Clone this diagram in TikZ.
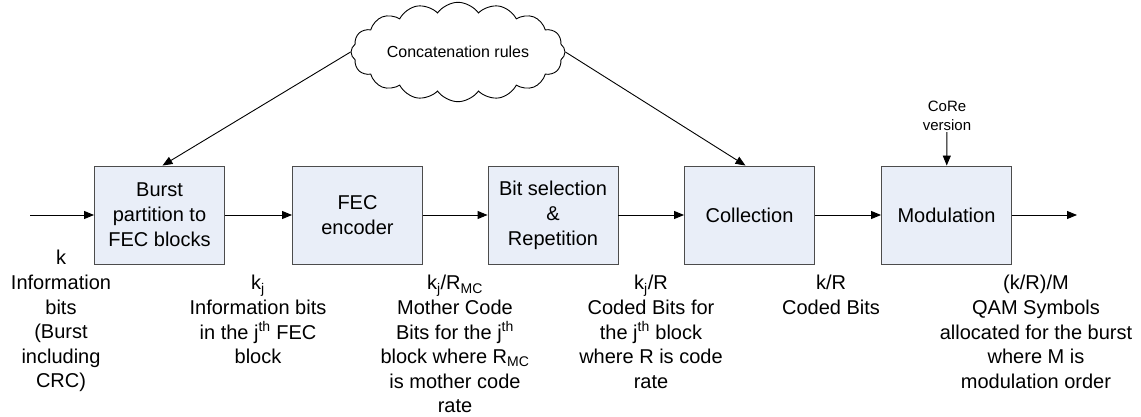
\documentclass[tikz,border=0pt]{standalone}
\usepackage{fontspec}
\setmainfont{Liberation Sans}
\usetikzlibrary{calc}
\usetikzlibrary{arrows.meta}
\usetikzlibrary{shapes.symbols}
\definecolor{boxfill}{RGB}{233,238,248}

\begin{document}
\begin{tikzpicture}[x=1pt,y=-1pt,line width=0.9pt,
  block/.style={draw=black!70,fill=boxfill,minimum width=130pt,minimum height=98pt,align=center,font=\fontsize{20}{25}\selectfont},
  lbl/.style={anchor=north,align=center,inner sep=0pt,font=\fontsize{20}{24.6}\selectfont},
  arr/.style={-{Triangle[length=10pt,width=8pt]},black}]

\useasboundingbox (0,0) rectangle (1141,417);

\node[block] (B1) at (159.5,215) {Burst\\partition to\\FEC blocks};
\node[block] (B2) at (357.5,215) {FEC\\encoder};
\node[block] (B3) at (553,215) {Bit selection\\\&\\Repetition};
\node[block] (B4) at (749.5,215) {Collection};
\node[block] (B5) at (946.5,215) {Modulation};

\coordinate (in) at (30,215);
\coordinate (out) at (1077,215);

\draw[arr] (in) -- (B1);
\draw[arr] (B1) -- (B2);
\draw[arr] (B2) -- (B3);
\draw[arr] (B3) -- (B4);
\draw[arr] (B4) -- (B5);
\draw[arr] (B5) -- (out);

\node[cloud,draw,cloud puffs=16,cloud puff arc=110,aspect=2.5,minimum width=214pt,minimum height=86pt,inner sep=0pt,font=\fontsize{16}{19}\selectfont] (rules) at (458,52) {Concatenation rules};
\draw[arr] (rules.west) -- ([xshift=3pt]B1.north);
\draw[arr] (rules.east) -- ([xshift=-4pt]B4.north);

\node[align=center,inner sep=1pt,font=\fontsize{15}{18.5}\selectfont] (core) at (947,116) {CoRe\\version};
\draw[arr] (core) -- (B5);

\node[lbl] (l1) at (61,250) {k\\Information\\bits\\(Burst\\including\\CRC)};
\node[lbl] (l2) at (258,275) {k\textsubscript{j}\\Information bits\\in the j\textsuperscript{th} FEC\\block};
\node[lbl] (l3) at (455,275) {k\textsubscript{j}/R\textsubscript{MC}\\Mother Code\\Bits for the j\textsuperscript{th}\\block where R\textsubscript{MC}\\is mother code\\rate};
\node[lbl] (l4) at (651,275) {k\textsubscript{j}/R\\Coded Bits for\\the j\textsuperscript{th} block\\where R is code\\rate};
\node[lbl] (l5) at (831,275) {k/R\\Coded Bits};
\node[lbl] (l6) at (1036,275) {(k/R)/M\\QAM Symbols\\allocated for the burst\\where M is\\modulation order};

\end{tikzpicture}
\end{document}
